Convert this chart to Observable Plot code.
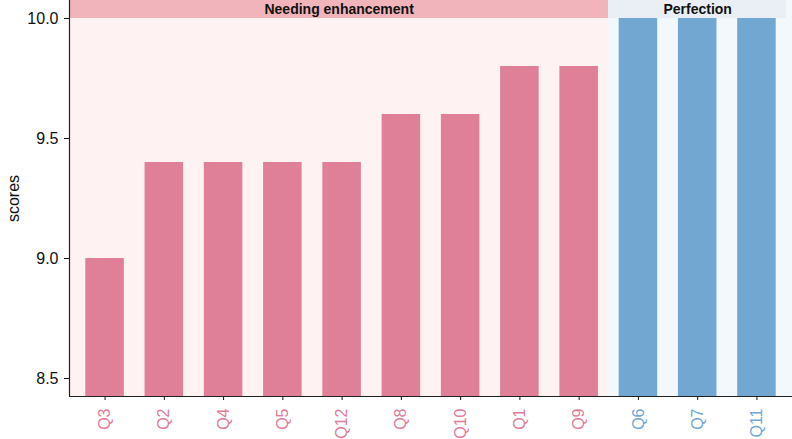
<!DOCTYPE html>
<html><head><meta charset="utf-8">
<script src="https://cdn.jsdelivr.net/npm/d3@7"></script>
<script src="https://cdn.jsdelivr.net/npm/@observablehq/plot@0.6"></script>
<style>body{margin:0;background:#fff;font-family:"Liberation Sans",Arial,sans-serif}</style>
</head><body><div id="chart"></div>
<script>
const categories = ["Q3","Q2","Q4","Q5","Q12","Q8","Q10","Q1","Q9","Q6","Q7","Q11"];
const scores = [9.0,9.4,9.4,9.4,9.4,9.6,9.6,9.8,9.8,10.0,10.0,10.0];
const groupOf = ["Needing enhancement","Needing enhancement","Needing enhancement","Needing enhancement","Needing enhancement","Needing enhancement","Needing enhancement","Needing enhancement","Needing enhancement","Perfection","Perfection","Perfection"];
const groupNames = ["Needing enhancement","Perfection"];
const yTicks = [8.5, 9.0, 9.5, 10.0];
const yLimits = [8.5, 10.0];

const barColor = {"Needing enhancement": "#df7f98", "Perfection": "#72a7d2"};
const bgColor = {"Needing enhancement": "#fef2f3", "Perfection": "#f3f8fd"};
const stripColor = {"Needing enhancement": "#f0b4ba", "Perfection": "#e9eff5"};
const labelColor = {"Needing enhancement": "#e07b98", "Perfection": "#6fa6d6"};

const data = categories.map((c, i) => ({cat: c, idx: i + 1, score: scores[i], group: groupOf[i]}));
const n = categories.length;
const xDomain = [1 - 0.6, n + 0.6];
const ySpan = yLimits[1] - yLimits[0];
const yDomain = [yLimits[0] - 0.05 * ySpan, yLimits[1] + 0.05 * ySpan];

const groups = groupNames.map((g, gi) => {
  const rows = data.filter(d => d.group === g);
  const first = rows[0].idx, last = rows[rows.length - 1].idx;
  return {
    group: g,
    bx1: gi === 0 ? xDomain[0] : first - 0.5,
    bx2: gi === groupNames.length - 1 ? xDomain[1] : last + 0.5,
    sx1: gi === 0 ? xDomain[0] : first - 0.5,
    sx2: last + 0.5
  };
});

const plot = Plot.plot({
  width: 792,
  height: 439,
  marginLeft: 69,
  marginRight: 0,
  marginTop: 0,
  marginBottom: 43,
  style: {fontFamily: "'Liberation Sans', Arial, sans-serif", background: "#fff", fontSize: "16px"},
  x: {domain: xDomain, axis: null},
  y: {domain: yDomain, axis: null},
  marks: [
    Plot.rect(groups, {x1: "bx1", x2: "bx2", y1: yDomain[0], y2: yDomain[1], fill: d => bgColor[d.group]}),
    Plot.rectY(data, {x1: d => d.idx - 0.325, x2: d => d.idx + 0.325, y1: 0, y2: "score", fill: d => barColor[d.group], clip: true}),
    Plot.rect(groups, {x1: "sx1", x2: "sx2", y1: yLimits[1], y2: yDomain[1], fill: d => stripColor[d.group]}),
    Plot.text(groups, {x: d => (d.sx1 + d.sx2) / 2, y: (yLimits[1] + yDomain[1]) / 2, text: "group", fontWeight: "bold", fontSize: 14, fill: "#111"}),
    Plot.axisY({ticks: yTicks, tickFormat: d3.format(".1f"), tickSize: 5, tickPadding: 6, fontSize: 16, color: "#111",
      label: "scores", labelAnchor: "center", labelOffset: 62, labelArrow: "none"}),
    Plot.axisX({ticks: data.map(d => d.idx), tickFormat: i => categories[i - 1], tickSize: 4, tickPadding: 8,
      tickRotate: -90, fontSize: 16, stroke: "#111", fill: i => labelColor[groupOf[i - 1]], label: null}),
    Plot.ruleX([xDomain[0]], {stroke: "#222", strokeWidth: 1.2}),
    Plot.ruleY([yDomain[0]], {stroke: "#222", strokeWidth: 1.2})
  ]
});
document.getElementById("chart").appendChild(plot);
</script>
</body></html>
